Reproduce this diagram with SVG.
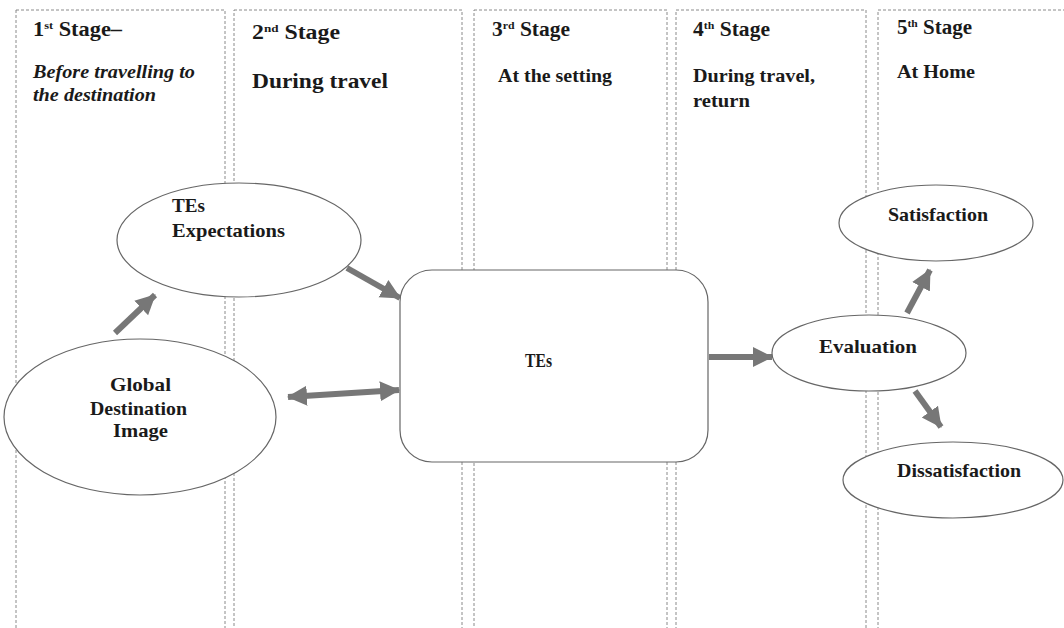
<svg xmlns="http://www.w3.org/2000/svg" width="1064" height="628" viewBox="0 0 1064 628">
<style>
.frame{fill:none;stroke:#8a8a8a;stroke-width:1;stroke-dasharray:3 2}
.node{fill:#fff;stroke:#666;stroke-width:1.2}
.arr{stroke:#777;stroke-width:6;fill:none}
</style>
<defs>
<marker id="ah" markerUnits="userSpaceOnUse" markerWidth="22" markerHeight="22" refX="19" refY="11" orient="auto">
<path d="M0,1 L20,11 L0,21 Z" fill="#777"/>
</marker>
<marker id="ahs" markerUnits="userSpaceOnUse" markerWidth="22" markerHeight="22" refX="19" refY="11" orient="auto-start-reverse">
<path d="M0,1 L20,11 L0,21 Z" fill="#777"/>
</marker>
</defs>
<rect width="1064" height="628" fill="#fff"/>
<g id="stages">
<rect class="frame" x="16" y="10" width="209" height="640"/>
<rect class="frame" x="234" y="10" width="228" height="640"/>
<rect class="frame" x="474" y="10" width="193" height="640"/>
<rect class="frame" x="676" y="10" width="190" height="640"/>
<rect class="frame" x="878" y="10" width="200" height="640"/>
</g>
<g id="stage-labels" font-family="Liberation Serif, serif" font-weight="bold" font-size="19" fill="#1a1a1a">
<text x="33" y="36" font-size="20" textLength="89" lengthAdjust="spacingAndGlyphs">1<tspan font-size="11" dy="-7">st</tspan><tspan dy="7"> Stage–</tspan></text>
<text font-style="italic" x="33" y="78" textLength="162" lengthAdjust="spacingAndGlyphs">Before travelling to</text>
<text font-style="italic" x="33" y="101" textLength="123" lengthAdjust="spacingAndGlyphs">the destination</text>
<text x="252" y="39" font-size="20" textLength="88" lengthAdjust="spacingAndGlyphs">2<tspan font-size="11" dy="-7">nd</tspan><tspan dy="7"> Stage</tspan></text>
<text font-size="21" x="252" y="88" textLength="136" lengthAdjust="spacingAndGlyphs">During travel</text>
<text x="492" y="36" font-size="20" textLength="78" lengthAdjust="spacingAndGlyphs">3<tspan font-size="11" dy="-7">rd</tspan><tspan dy="7"> Stage</tspan></text>
<text x="498" y="82" textLength="114" lengthAdjust="spacingAndGlyphs">At the setting</text>
<text x="693" y="36" font-size="20" textLength="77" lengthAdjust="spacingAndGlyphs">4<tspan font-size="11" dy="-7">th</tspan><tspan dy="7"> Stage</tspan></text>
<text x="693" y="82" textLength="122" lengthAdjust="spacingAndGlyphs">During travel,</text>
<text x="693" y="107" textLength="57" lengthAdjust="spacingAndGlyphs">return</text>
<text x="897" y="34" font-size="20" textLength="75" lengthAdjust="spacingAndGlyphs">5<tspan font-size="11" dy="-7">th</tspan><tspan dy="7"> Stage</tspan></text>
<text x="897" y="78" textLength="78" lengthAdjust="spacingAndGlyphs">At Home</text>
</g>
<g id="connectors">
<line class="arr" x1="115" y1="333" x2="155" y2="295" marker-end="url(#ah)"/>
<line class="arr" x1="347" y1="268" x2="400" y2="298" marker-end="url(#ah)"/>
<line class="arr" x1="288" y1="397" x2="399" y2="390" marker-start="url(#ahs)" marker-end="url(#ah)"/>
<line class="arr" x1="709" y1="357" x2="772" y2="357" marker-end="url(#ah)"/>
<line class="arr" x1="907" y1="313" x2="930" y2="270" marker-end="url(#ah)"/>
<line class="arr" x1="915" y1="391" x2="941" y2="427" marker-end="url(#ah)"/>
</g>
<g id="expectations" font-family="Liberation Serif, serif" font-weight="bold" font-size="19" fill="#1a1a1a">
<ellipse class="node" cx="239" cy="240" rx="122" ry="57"/>
<text x="172" y="212" textLength="33" lengthAdjust="spacingAndGlyphs">TEs</text>
<text x="172" y="237" textLength="113" lengthAdjust="spacingAndGlyphs">Expectations</text>
</g>
<g id="global-image" font-family="Liberation Serif, serif" font-weight="bold" font-size="19" fill="#1a1a1a">
<ellipse class="node" cx="140" cy="417" rx="136" ry="78"/>
<text x="110" y="391" textLength="61" lengthAdjust="spacingAndGlyphs">Global</text>
<text x="90" y="415" textLength="97" lengthAdjust="spacingAndGlyphs">Destination</text>
<text x="113" y="437" textLength="55" lengthAdjust="spacingAndGlyphs">Image</text>
</g>
<g id="tes" font-family="Liberation Serif, serif" font-weight="bold" font-size="19" fill="#1a1a1a">
<rect class="node" x="400" y="270" width="308" height="192" rx="32"/>
<text x="525" y="367" textLength="27" lengthAdjust="spacingAndGlyphs">TEs</text>
</g>
<g id="evaluation" font-family="Liberation Serif, serif" font-weight="bold" font-size="19" fill="#1a1a1a">
<ellipse class="node" cx="869" cy="353" rx="97" ry="38"/>
<text x="819" y="353" textLength="98" lengthAdjust="spacingAndGlyphs">Evaluation</text>
</g>
<g id="satisfaction" font-family="Liberation Serif, serif" font-weight="bold" font-size="19" fill="#1a1a1a">
<ellipse class="node" cx="936" cy="223" rx="97" ry="38"/>
<text x="888" y="221" textLength="100" lengthAdjust="spacingAndGlyphs">Satisfaction</text>
</g>
<g id="dissatisfaction" font-family="Liberation Serif, serif" font-weight="bold" font-size="19" fill="#1a1a1a">
<ellipse class="node" cx="953" cy="480" rx="110" ry="38"/>
<text x="897" y="477" textLength="124" lengthAdjust="spacingAndGlyphs">Dissatisfaction</text>
</g>
</svg>
